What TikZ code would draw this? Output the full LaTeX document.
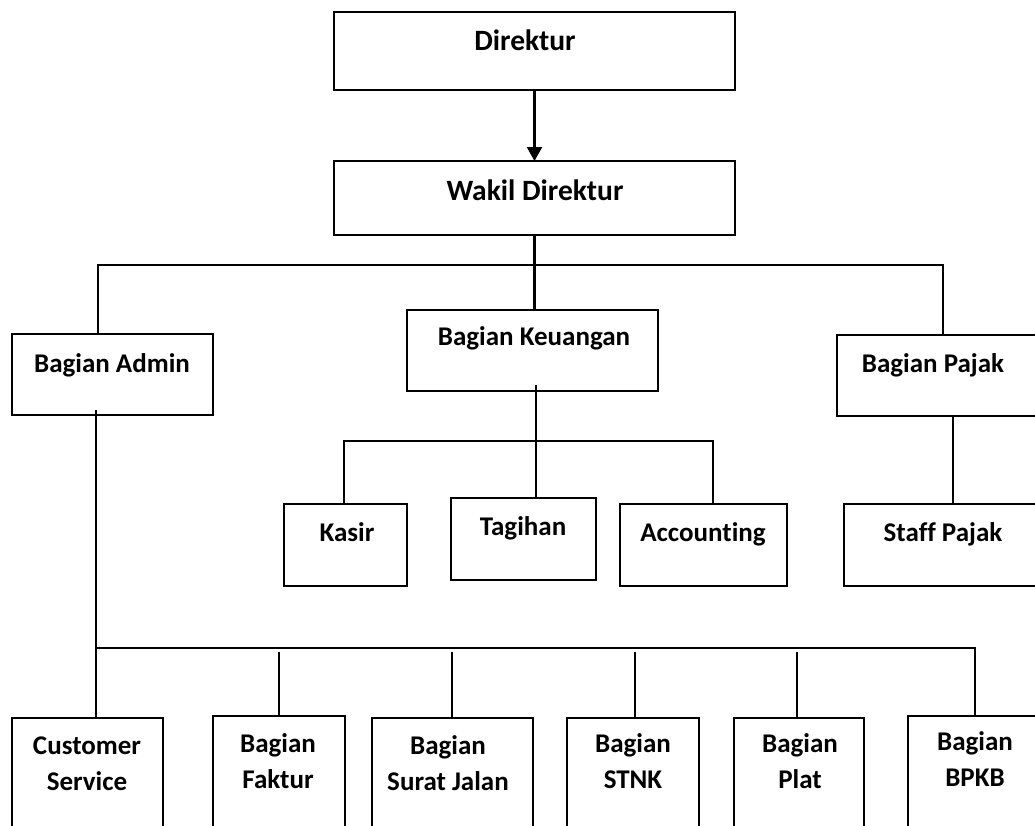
\documentclass[tikz,border=0pt]{standalone}
\usepackage{fontspec}
\setmainfont{Carlito}[Ligatures=NoCommon]
\usetikzlibrary{arrows.meta}
\begin{document}
\begin{tikzpicture}[x=1pt,y=-1pt,
  line width=2.2pt, line join=miter,
  box/.style={draw=black, line width=2.2pt, rectangle, inner sep=0pt, outer sep=0pt, anchor=north west},
  lbl/.style={anchor=base, inner sep=0pt, align=center, font=\fontsize{27}{36}\selectfont\bfseries},
  biglbl/.style={lbl, font=\fontsize{29.5}{36}\selectfont\bfseries},
  conn/.style={draw=black, line width=2.2pt},
  arr/.style={conn, -{Triangle[width=15pt,length=14pt]}}]
\useasboundingbox (0,0) rectangle (1035,825);
\clip (0,0) rectangle (1035,825);
\fill[white] (0,0) rectangle (1035,825);
% boxes
\node[box, minimum width=401pt, minimum height=78pt] (dir) at (334,12) {};
\node[box, minimum width=401pt, minimum height=74pt] (wakil) at (334,161) {};
\node[box, minimum width=201pt, minimum height=81pt] (admin) at (12,334) {};
\node[box, minimum width=251pt, minimum height=81pt] (keu) at (407,310) {};
\node[box, minimum width=213pt, minimum height=81pt] (pajak) at (837,335) {};
\node[box, minimum width=123pt, minimum height=82pt] (kasir) at (284,504) {};
\node[box, minimum width=145pt, minimum height=82pt] (tagihan) at (451,498) {};
\node[box, minimum width=167pt, minimum height=82pt] (acc) at (620,504) {};
\node[box, minimum width=206pt, minimum height=82pt] (staff) at (844,504) {};
\node[box, minimum width=151pt, minimum height=140pt] (cs) at (12,718) {};
\node[box, minimum width=132pt, minimum height=140pt] (faktur) at (213,716) {};
\node[box, minimum width=161pt, minimum height=140pt] (surat) at (372,718) {};
\node[box, minimum width=132pt, minimum height=140pt] (stnk) at (567,718) {};
\node[box, minimum width=130pt, minimum height=140pt] (plat) at (734,718) {};
\node[box, minimum width=142pt, minimum height=140pt] (bpkb) at (908,716) {};
% labels
\node[biglbl] (tdir) at (525,50) {Direktur};
\node[biglbl] (twakil) at (535,200) {Wakil Direktur};
\node[lbl] (tadmin) at (112,372) {Bagian Admin};
\node[lbl] (tkeu) at (534,345) {Bagian Keuangan};
\node[lbl] (tpajak) at (933,372) {Bagian Pajak};
\node[lbl] (tkasir) at (347,541) {Kasir};
\node[lbl] (ttagihan) at (523,535) {Tagihan};
\node[lbl] (tacc) at (703,541) {Accounting};
\node[lbl] (tstaff) at (943,541) {Staff Pajak};
\node[lbl] (tcs) at (87,790) {Customer\\Service};
\node[lbl] (tfaktur) at (278,788) {Bagian\\Faktur};
\node[lbl] (tsurat) at (448,790) {Bagian\\Surat Jalan};
\node[lbl] (tstnk) at (633,788) {Bagian\\STNK};
\node[lbl] (tplat) at (800,788) {Bagian\\Plat};
\node[lbl] (tbpkb) at (975,786) {Bagian\\BPKB};
% junction coordinates
\coordinate (busL) at (98,265);
\coordinate (busR) at (943,265);
\coordinate (kb) at (536,385);
\coordinate (kl) at (344,441);
\coordinate (kr) at (713,441);
\coordinate (pj) at (953,0);
\coordinate (al) at (96,648);
\coordinate (ar) at (975,648);
\coordinate (f1) at (279,652);
\coordinate (f2) at (452,652);
\coordinate (f3) at (635,652);
\coordinate (f4) at (797,652);
% connectors
\draw[arr] (dir.south) -- (wakil.north);
\draw[conn] (wakil.south) -- (wakil.south |- keu.north);
\draw[conn] (busL |- admin.north) -- (busL) -- (busR) -- (busR |- pajak.north);
\draw[conn] (kb) -- (kb |- tagihan.north);
\draw[conn] (kl |- kasir.north) -- (kl) -- (kr) -- (kr |- acc.north);
\draw[conn] (pajak.south -| pj) -- (staff.north -| pj);
\draw[conn] ([yshift=5pt]admin.south -| al) -- (al) -- (ar) -- (ar |- bpkb.north);
\draw[conn] (al) -- (al |- cs.north);
\draw[conn] (f1) -- (f1 |- faktur.north);
\draw[conn] (f2) -- (f2 |- surat.north);
\draw[conn] (f3) -- (f3 |- stnk.north);
\draw[conn] (f4) -- (f4 |- plat.north);
\end{tikzpicture}
\end{document}
